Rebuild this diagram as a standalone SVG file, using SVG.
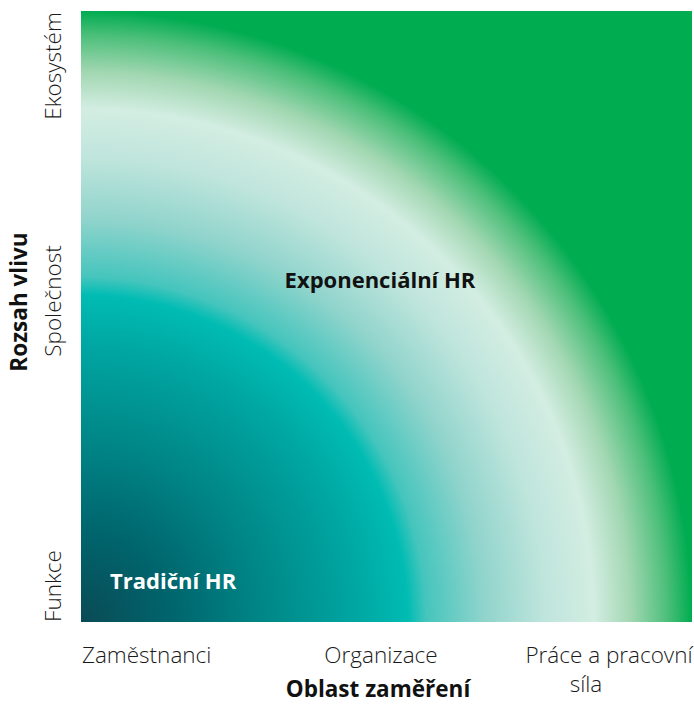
<svg xmlns="http://www.w3.org/2000/svg" width="694" height="704" viewBox="0 0 694 704">
<style>
.ax{font-family:"Open Sans","Noto Sans","Liberation Sans",sans-serif;font-weight:300;font-size:22.5px;fill:#1a1a1a}
.tt{font-family:"Open Sans","Noto Sans","Liberation Sans",sans-serif;font-weight:700;font-size:22.5px;fill:#111}
.lb{font-family:"Open Sans","Noto Sans","Liberation Sans",sans-serif;font-weight:700;font-size:22px}
</style>
<defs>
<radialGradient id="g" gradientUnits="userSpaceOnUse" cx="81" cy="622" r="611">
<stop offset="0" stop-color="#0a4a55"/>
<stop offset="0.15" stop-color="#00656d"/>
<stop offset="0.3" stop-color="#008787"/>
<stop offset="0.45" stop-color="#00a6a2"/>
<stop offset="0.535" stop-color="#00bcb3"/>
<stop offset="0.565" stop-color="#45c5bd"/>
<stop offset="0.66" stop-color="#90d4cc"/>
<stop offset="0.76" stop-color="#bfe5dc"/>
<stop offset="0.84" stop-color="#d3ede2"/>
<stop offset="0.9" stop-color="#a2d7b2"/>
<stop offset="0.96" stop-color="#4cbf7a"/>
<stop offset="1" stop-color="#00ac50"/>
</radialGradient>
</defs>
<g id="field">
<rect x="81" y="11" width="611" height="611" fill="url(#g)"/>
</g>
<g id="exponencialni">
<text class="lb" x="380" y="288" text-anchor="middle" fill="#111">Exponenciální HR</text>
</g>
<g id="tradicni">
<text class="lb" x="110" y="589" fill="#fff">Tradiční HR</text>
</g>
<g id="x-axis">
<text class="ax" x="82" y="663">Zaměstnanci</text>
<text class="ax" x="381" y="663" text-anchor="middle">Organizace</text>
<text class="ax" x="609" y="663" text-anchor="middle">Práce a pracovní</text>
<text class="ax" x="586" y="692" text-anchor="middle">síla</text>
<text class="tt" x="378" y="697" text-anchor="middle">Oblast zaměření</text>
</g>
<g id="y-axis">
<text class="ax" transform="translate(61,66) rotate(-90)" text-anchor="middle">Ekosystém</text>
<text class="ax" transform="translate(61,301) rotate(-90)" text-anchor="middle">Společnost</text>
<text class="ax" transform="translate(61,586) rotate(-90)" text-anchor="middle">Funkce</text>
<text class="tt" transform="translate(27,302) rotate(-90)" text-anchor="middle">Rozsah vlivu</text>
</g>
<g id="connectors"></g>
</svg>
